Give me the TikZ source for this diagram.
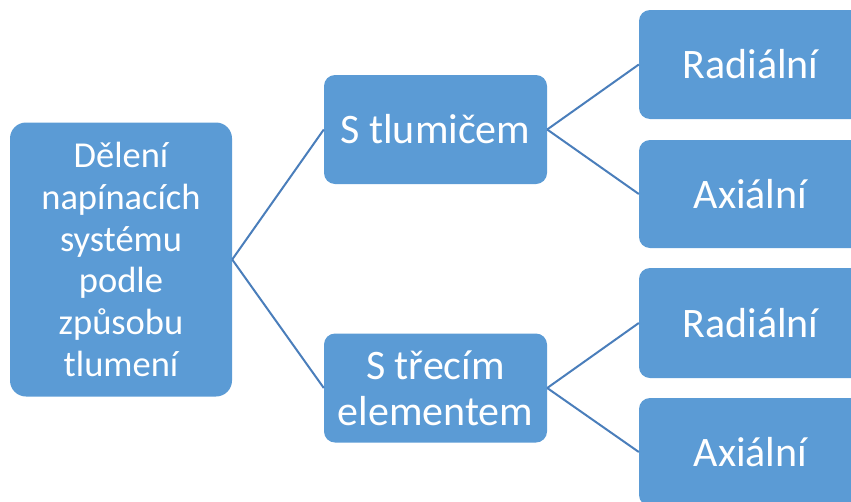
\documentclass[tikz,border=0pt]{standalone}
\usepackage{fontspec}
\setmainfont{Carlito}
\definecolor{boxfill}{HTML}{5B9BD5}
\definecolor{linkcol}{HTML}{4A7EBB}
\begin{document}
\begin{tikzpicture}[x=1pt,y=-1pt,
  box/.style={fill=boxfill, draw=none, text=white, align=center,
    inner sep=0pt, rounded corners=11pt, minimum width=223pt,
    font=\fontsize{42}{46}\selectfont},
  rootbox/.style={box, rounded corners=16pt, minimum width=222pt,
    font=\fontsize{36.5}{41.7}\selectfont},
  link/.style={draw=linkcol, line width=2pt}]
\useasboundingbox (0,0) rectangle (851,501);
\clip (0,0) rectangle (851,501);
% root
\node[rootbox, minimum height=274pt]
  (root) at (121,259.5) {Dělení\\napínacích\\systému\\podle\\způsobu\\tlumení};
% second level
\node[box, minimum height=109pt] (damp) at (435.5,129.5) {S tlumičem};
\node[box, minimum height=109pt] (fric) at (435.5,388) {S třecím\\elementem};
% third level
\node[box, minimum height=109pt] (r1) at (750.5,64.5) {Radiální};
\node[box, minimum height=108pt] (a1) at (750.5,194) {Axiální};
\node[box, minimum height=110pt] (r2) at (750.5,323) {Radiální};
\node[box, minimum height=108pt] (a2) at (750.5,452) {Axiální};
% connectors
\draw[link] (root.east) -- (damp.west);
\draw[link] (root.east) -- (fric.west);
\draw[link] (damp.east) -- (r1.west);
\draw[link] (damp.east) -- (a1.west);
\draw[link] (fric.east) -- (r2.west);
\draw[link] (fric.east) -- (a2.west);
\end{tikzpicture}
\end{document}
